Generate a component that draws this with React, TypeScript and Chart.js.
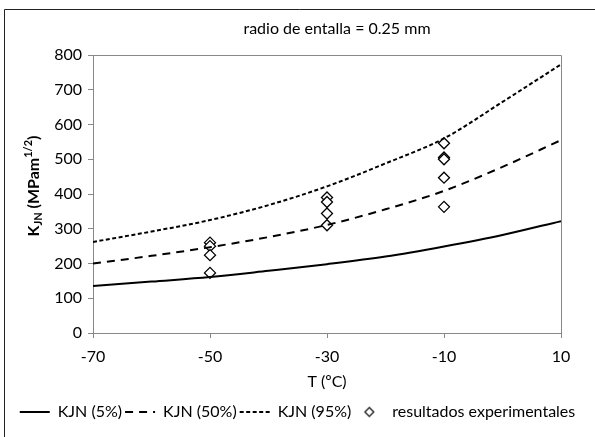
import React, { useEffect, useRef } from "react";
import { Chart, registerables } from "chart.js";

Chart.register(...registerables);

const temps = [-70, -60, -50, -40, -30, -20, -10, 0, 10];
const kjn5 = [135, 148, 161, 179, 198, 220, 249, 282, 322];
const kjn50 = [200, 222, 247, 276, 311, 356, 409, 478, 555];
const kjn95 = [262, 292, 325, 368, 422, 488, 560, 665, 773];

const expTemps = [-50, -50, -50, -50, -30, -30, -30, -30, -10, -10, -10, -10, -10];
const expValues = [260, 250, 224, 173, 390, 377, 344, 310, 546, 505, 500, 447, 363];

const xTicks = [-70, -50, -30, -10, 10];
const titleText = "radio de entalla = 0.25 mm";
const xTitle = "T (ºC)";
const legendLabels = ["KJN (5%)", "KJN (50%)", "KJN (95%)", "resultados experimentales"];

const FONT = "Lato, 'Open Sans', sans-serif";
const FS = 16;
const PAD_BOTTOM = 7;

function makeDiamond(): HTMLCanvasElement {
  const c = document.createElement("canvas");
  c.width = 13;
  c.height = 13;
  const g = c.getContext("2d")!;
  g.strokeStyle = "#000";
  g.lineWidth = 1.1;
  g.beginPath();
  g.moveTo(6.5, 2);
  g.lineTo(11, 6.5);
  g.lineTo(6.5, 11);
  g.lineTo(2, 6.5);
  g.closePath();
  g.stroke();
  return c;
}

const decorPlugin = {
  id: "decor",
  beforeDatasetsDraw(chart: any) {
    const { ctx, chartArea } = chart;
    ctx.save();
    ctx.strokeStyle = "#888888";
    ctx.lineWidth = 1;
    ctx.beginPath();
    ctx.moveTo(chartArea.left, chartArea.top + 0.5);
    ctx.lineTo(chartArea.right + 0.5, chartArea.top + 0.5);
    ctx.lineTo(chartArea.right + 0.5, chartArea.bottom);
    ctx.stroke();
    ctx.restore();
  },
  afterDraw(chart: any) {
    const { ctx } = chart;
    ctx.save();
    ctx.strokeStyle = "#222222";
    ctx.lineWidth = 1;
    ctx.beginPath();
    ctx.moveTo(4.5, chart.height);
    ctx.lineTo(4.5, 9.5);
    ctx.lineTo(chart.width, 9.5);
    ctx.stroke();
    ctx.fillStyle = "#000";
    ctx.font = `${FS}px ${FONT}`;
    ctx.textAlign = "center";
    ctx.textBaseline = "middle";
    ctx.fillText(titleText, 337, 29);
    ctx.translate(34, 186);
    ctx.rotate(-Math.PI / 2);
    const big = `bold ${FS}px ${FONT}`;
    const small = `bold 11px ${FONT}`;
    const parts: [string, string, number][] = [
      ["K", big, 0],
      ["JN", small, 4],
      [" (MPam", big, 0],
      ["1/2", small, -6],
      [")", big, 0],
    ];
    let total = 0;
    for (const [t, f] of parts) {
      ctx.font = f;
      total += ctx.measureText(t).width;
    }
    let x = -total / 2;
    ctx.textAlign = "left";
    ctx.textBaseline = "middle";
    for (const [t, f, dy] of parts) {
      ctx.font = f;
      ctx.fillText(t, x, dy);
      x += ctx.measureText(t).width;
    }
    ctx.restore();
  },
};

export default function App() {
  const ref = useRef<HTMLCanvasElement | null>(null);
  useEffect(() => {
    if (!ref.current) return;
    const diamond = makeDiamond();
    const line = (vals: number[]) => temps.map((t, i) => ({ x: t, y: vals[i] }));
    const chart = new Chart(ref.current, {
      type: "line",
      data: {
        datasets: [
          {
            label: legendLabels[0],
            data: line(kjn5),
            borderColor: "#000",
            backgroundColor: "#000",
            borderWidth: 2,
            pointRadius: 0,
            cubicInterpolationMode: "monotone",
          },
          {
            label: legendLabels[1],
            data: line(kjn50),
            borderColor: "#000",
            backgroundColor: "#000",
            borderWidth: 2,
            borderDash: [8, 6],
            pointRadius: 0,
            cubicInterpolationMode: "monotone",
          },
          {
            label: legendLabels[2],
            data: line(kjn95),
            borderColor: "#000",
            backgroundColor: "#000",
            borderWidth: 2,
            borderDash: [4, 2.5],
            pointRadius: 0,
            cubicInterpolationMode: "monotone",
          },
          {
            label: legendLabels[3],
            data: expTemps.map((t, i) => ({ x: t, y: expValues[i] })),
            showLine: false,
            borderColor: "#000",
            backgroundColor: "#fff",
            borderWidth: 1.3,
            pointStyle: "rectRot",
            pointRadius: 5.5,
          } as any,
        ],
      },
      options: {
        animation: false,
        responsive: false,
        maintainAspectRatio: false,
        layout: { padding: { top: 55, right: 0, left: 0, bottom: PAD_BOTTOM } },
        plugins: {
          title: { display: false },
          tooltip: { enabled: false },
          legend: {
            display: true,
            position: "bottom",
            labels: {
              usePointStyle: true,
              boxWidth: 30,
              boxHeight: 8,
              pointStyleWidth: 30,
              padding: 3,
              color: "#000",
              font: { family: FONT, size: FS },
              generateLabels: (c: any) => {
                const base = Chart.defaults.plugins.legend.labels.generateLabels(c);
                return base.map((item: any, i: number) => {
                  const ds: any = c.data.datasets[i];
                  if (i < 3) {
                    return {
                      ...item,
                      pointStyle: "line",
                      lineDash: ds.borderDash || [],
                      lineWidth: 2,
                      strokeStyle: "#000",
                    };
                  }
                  return { ...item, pointStyle: diamond };
                });
              },
            },
          },
        },
        scales: {
          x: {
            type: "linear",
            min: -70,
            max: 10,
            afterBuildTicks: (s: any) => {
              s.ticks = xTicks.map((v) => ({ value: v }));
            },
            afterFit: (s: any) => {
              const lh = s.chart.legend ? s.chart.legend.height : 22;
              s.height = s.chart.height - PAD_BOTTOM - lh - 333;
            },
            grid: { drawOnChartArea: false, drawTicks: true, tickLength: 5, color: "#888888" },
            border: { color: "#888888" },
            ticks: { color: "#000", font: { family: FONT, size: FS }, padding: 9, maxRotation: 0 },
            title: {
              display: true,
              text: xTitle,
              color: "#000",
              font: { family: FONT, size: FS },
              padding: { top: 2, bottom: 10 },
            },
          },
          y: {
            type: "linear",
            min: 0,
            max: 800,
            ticks: { stepSize: 100, color: "#000", font: { family: FONT, size: FS }, padding: 6 },
            afterFit: (s: any) => {
              s.width = 93;
            },
            grid: { drawOnChartArea: false, drawTicks: true, tickLength: 5, color: "#888888" },
            border: { color: "#888888" },
          },
          yRight: {
            type: "linear",
            position: "right",
            display: true,
            min: 0,
            max: 800,
            ticks: { display: false },
            grid: { display: false, drawTicks: false },
            border: { display: false },
            afterFit: (s: any) => {
              s.width = 34;
            },
          },
        },
      },
      plugins: [decorPlugin],
    });
    return () => chart.destroy();
  }, []);
  return (
    <div style={{ position: "absolute", left: 0, top: 0, width: 595, height: 437, background: "#fff" }}>
      <canvas ref={ref} width={595} height={437} style={{ width: 595, height: 437 }} />
    </div>
  );
}
